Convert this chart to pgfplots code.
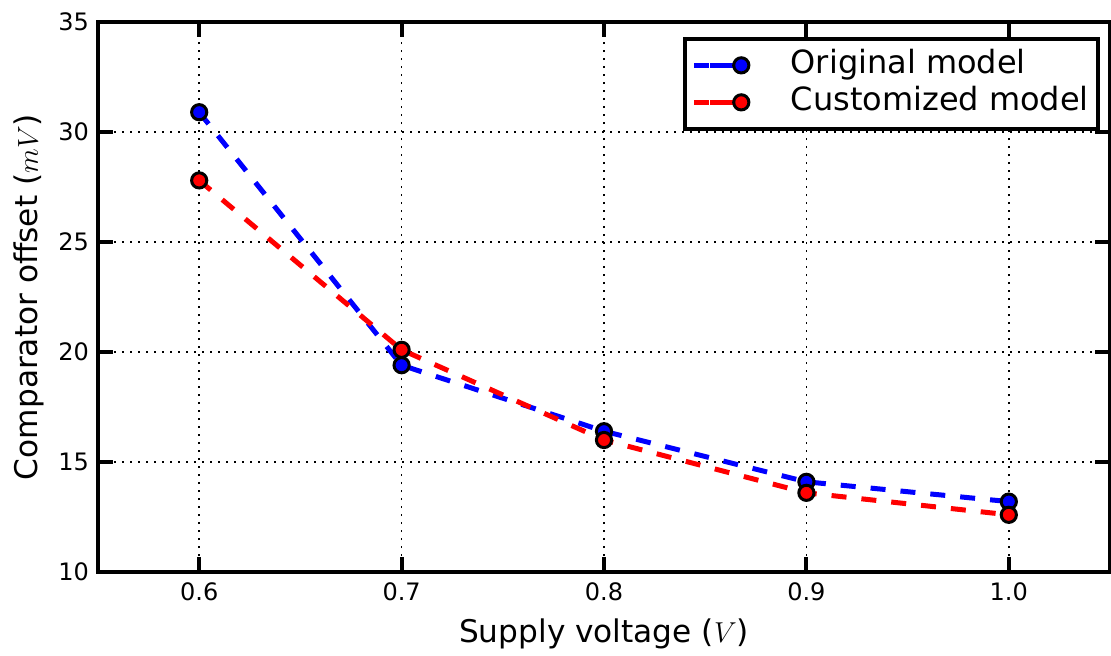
\documentclass[border=0pt]{standalone}
\usepackage{fontspec}
\setmainfont{DejaVu Sans}
\usepackage{pgfplots}
\pgfplotsset{compat=1.18}

% Comparator offset versus supply voltage
\pgfplotstableread{
v     off
0.6   30.9
0.7   19.4
0.8   16.4
0.9   14.1
1.0   13.2
}\original
\pgfplotstableread{
v     off
0.6   27.8
0.7   20.1
0.8   16.0
0.9   13.6
1.0   12.6
}\customized

\begin{document}
\begin{tikzpicture}
\useasboundingbox (-49pt,-41.5pt) rectangle (506.5pt,286pt);
\begin{axis}[
  at={(0,0)}, anchor=south west,
  scale only axis, width=506pt, height=275pt,
  xmin=0.55, xmax=1.05, ymin=10, ymax=35,
  xtick={0.6,0.7,0.8,0.9,1.0},
  xticklabels={0.6,0.7,0.8,0.9,1.0},
  ytick={10,15,20,25,30,35},
  /pgf/number format/assume math mode=true,
  tick align=inside,
  major tick length=7.5pt,
  every tick/.style={black, line width=2pt},
  axis line style={line width=2pt},
  grid=major,
  grid style={black, line width=0.75pt, dash pattern=on 0.8pt off 3.2pt},
  ticklabel style={font=\fontsize{12}{14}\selectfont},
  xticklabel style={yshift=-2pt},
  yticklabel style={xshift=-1pt},
  label style={font=\fontsize{15.6}{18}\selectfont},
  xlabel={Supply voltage ($V$)},
  ylabel={Comparator offset ($mV$)},
  xlabel style={at={(axis description cs:0.5,-0.112)}, anchor=center},
  ylabel style={at={(axis description cs:-0.068,0.5)}, anchor=center, rotate=0},
  legend style={
    at={(rel axis cs:0.990,0.973)}, anchor=north east,
    draw=black, line width=2pt,
    inner xsep=3.5pt, inner ysep=4pt,
    font=\fontsize{16}{19}\selectfont,
    nodes={text height=12.5pt, text depth=4pt, inner sep=1pt},
    cells={anchor=west},
  },
  legend image code/.code={%
    \path (-8pt,0pt) -- (19.5pt,0pt);
    \draw[#1, mark repeat=2, mark phase=2]
      plot coordinates {(0pt,0pt) (15.5pt,0pt) (19.5pt,0pt)};
  },
  every axis plot/.append style={
    line width=2.5pt, dash pattern=on 7.5pt off 7.5pt,
    mark=*, mark size=3.8pt,
  },
]
\addplot[blue, mark options={solid, draw=black, fill=blue, line width=1.5pt}]
  table[x=v, y=off] {\original};
\addlegendentry{\hspace*{18.5pt}Original model}
\addplot[red, mark options={solid, draw=black, fill=red, line width=1.5pt}]
  table[x=v, y=off] {\customized};
\addlegendentry{\hspace*{18.5pt}Customized model}
\end{axis}
\end{tikzpicture}
\end{document}
